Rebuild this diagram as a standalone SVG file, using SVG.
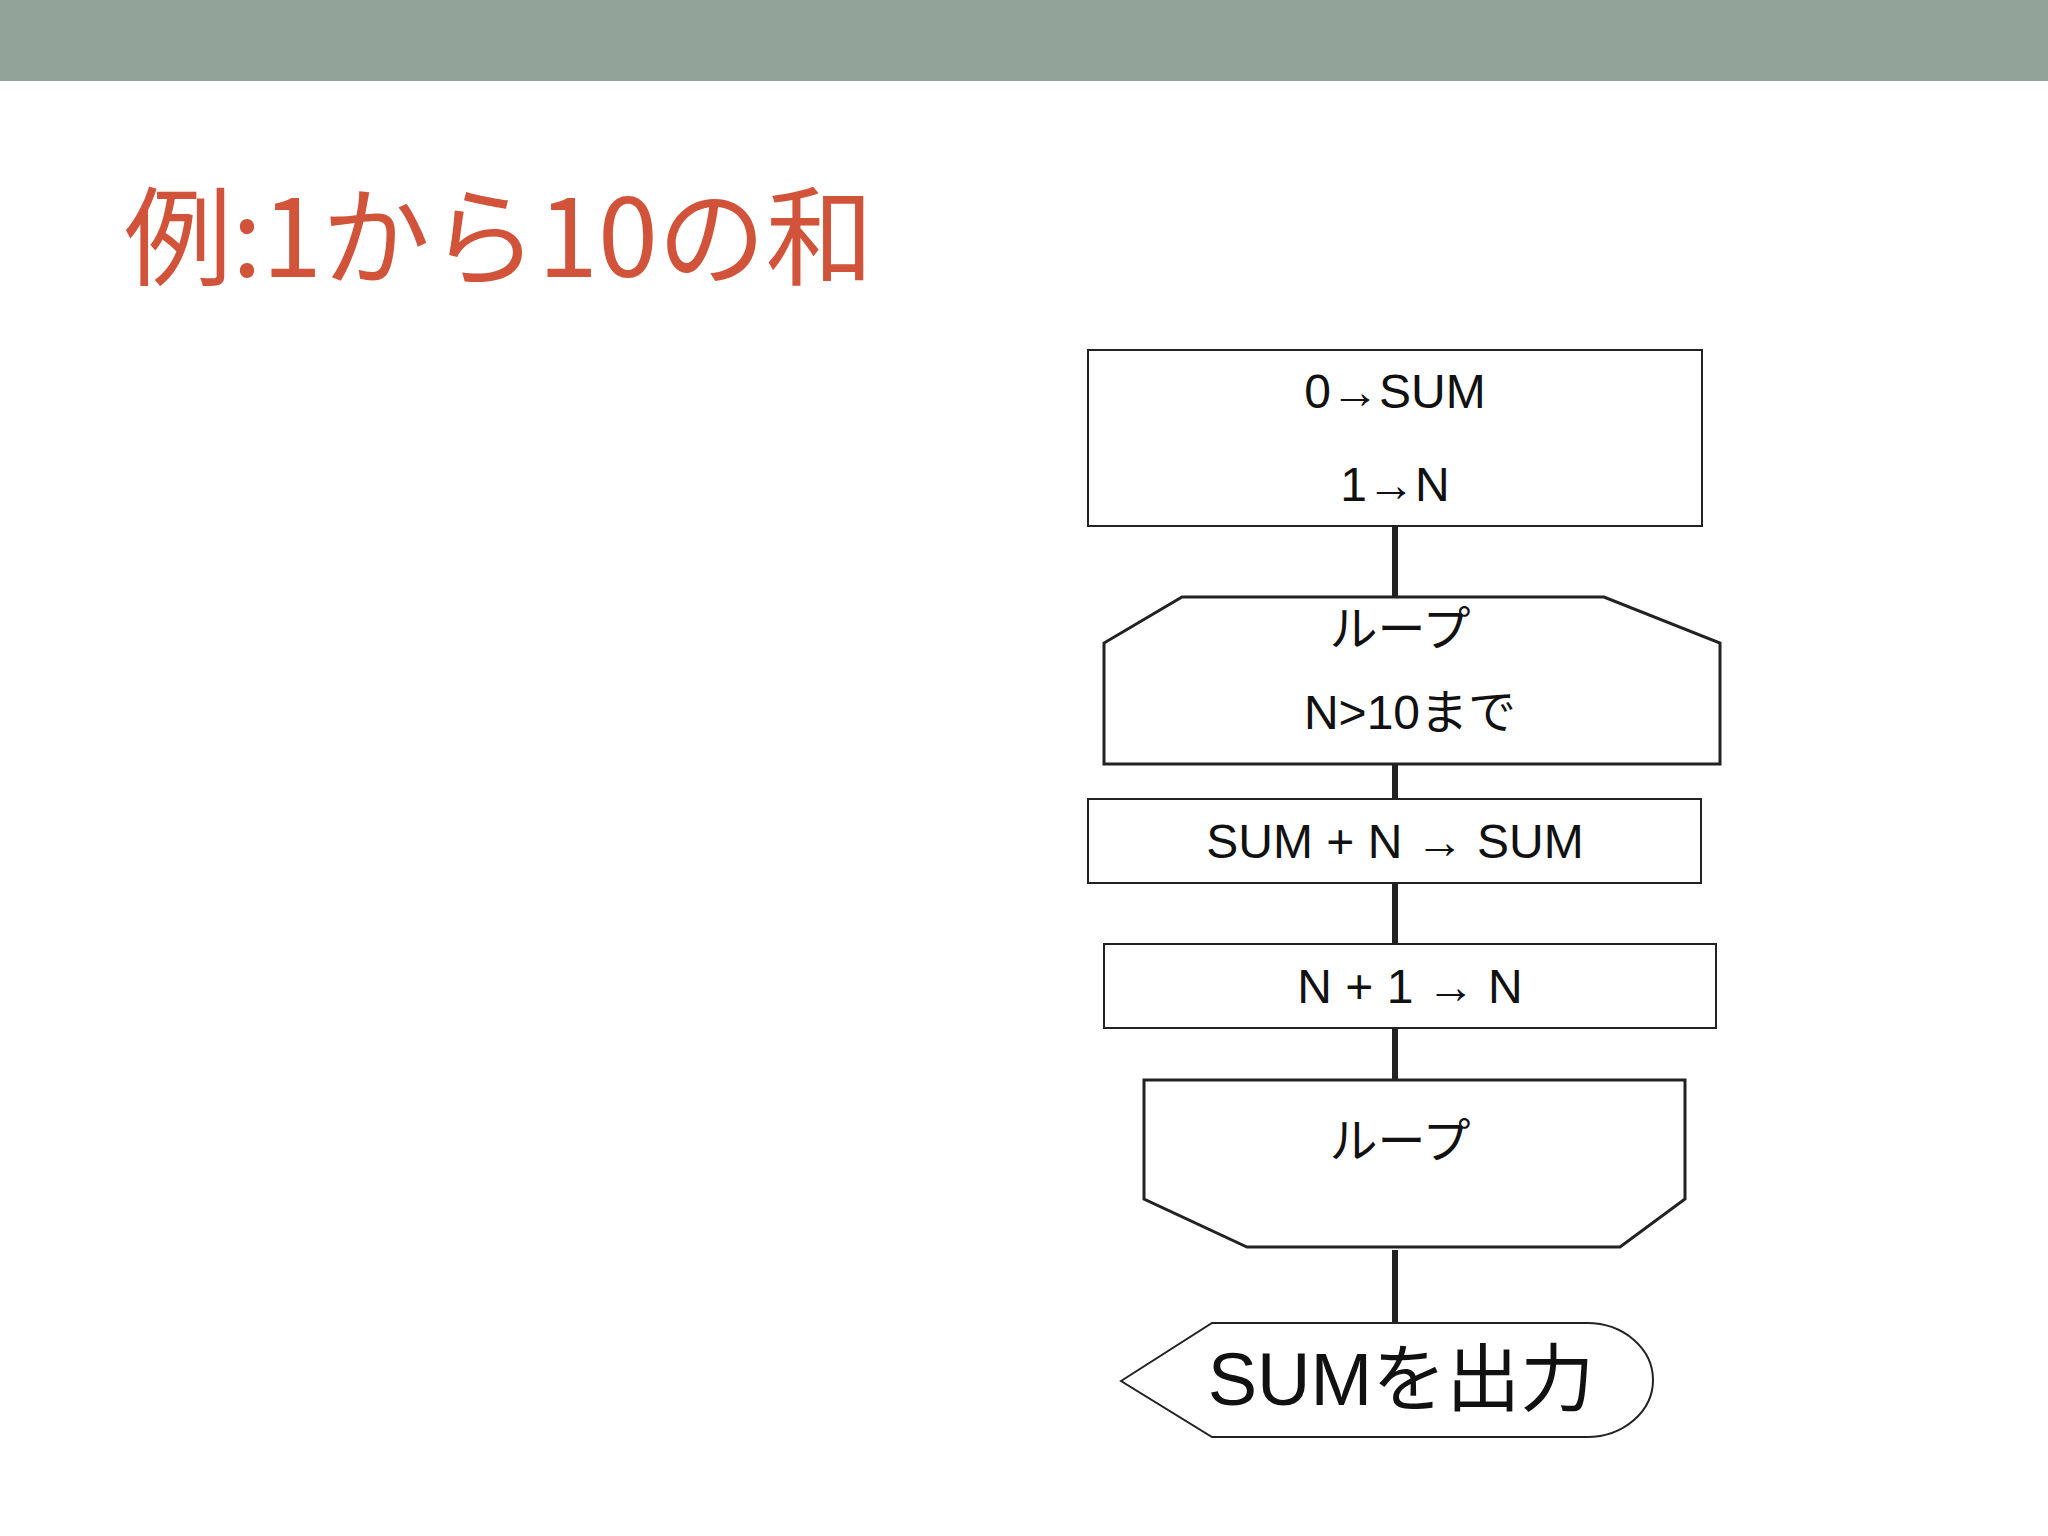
<svg xmlns="http://www.w3.org/2000/svg" width="2048" height="1536" viewBox="0 0 2048 1536">
<style>
.s{fill:#fff;stroke:#222;stroke-width:2}
.t{font-family:"Liberation Sans","Noto Sans CJK JP",sans-serif;font-size:48px;fill:#111;text-anchor:middle}
.c{stroke:#222;stroke-width:6}
</style>
<rect width="2048" height="1536" fill="#fff"/>
<rect width="2048" height="81" fill="#92A39A"/>
<text x="124" y="277" font-family="'Noto Sans CJK JP',sans-serif" font-size="108" fill="#D0533A">例:1から10の和</text>
<g id="connectors">
<line class="c" x1="1395" y1="526" x2="1395" y2="600"/>
<line class="c" x1="1395" y1="764" x2="1395" y2="799"/>
<line class="c" x1="1395" y1="883" x2="1395" y2="944"/>
<line class="c" x1="1395" y1="1028" x2="1395" y2="1080"/>
<line class="c" x1="1395" y1="1250" x2="1395" y2="1323"/>
</g>
<g id="init"><rect class="s" x="1088" y="350" width="614" height="176"/>
<text class="t" x="1395" y="408">0→SUM</text><text class="t" x="1395" y="501">1→N</text></g>
<g id="loopstart"><polygon class="s" style="stroke-width:3" points="1182,597 1604,597 1720,643 1720,764 1104,764 1104,643"/>
<text class="t" x="1400" y="646">ループ</text><text class="t" x="1410" y="729">N&gt;10まで</text></g>
<g id="add"><rect class="s" x="1088" y="799" width="613" height="84"/>
<text class="t" x="1395" y="858">SUM + N → SUM</text></g>
<g id="inc"><rect class="s" x="1104" y="944" width="612" height="84"/>
<text class="t" x="1410" y="1003">N + 1 → N</text></g>
<g id="loopend"><polygon class="s" style="stroke-width:3" points="1144,1080 1685,1080 1685,1199 1620,1247 1247,1247 1144,1199"/>
<text class="t" x="1400" y="1158">ループ</text></g>
<g id="output"><path class="s" d="M1121,1381 L1212,1323 L1587,1323 A66,57 0 0 1 1587,1437 L1212,1437 Z"/>
<text class="t" x="1401" y="1405" style="font-size:74px">SUMを出力</text></g>
</svg>
